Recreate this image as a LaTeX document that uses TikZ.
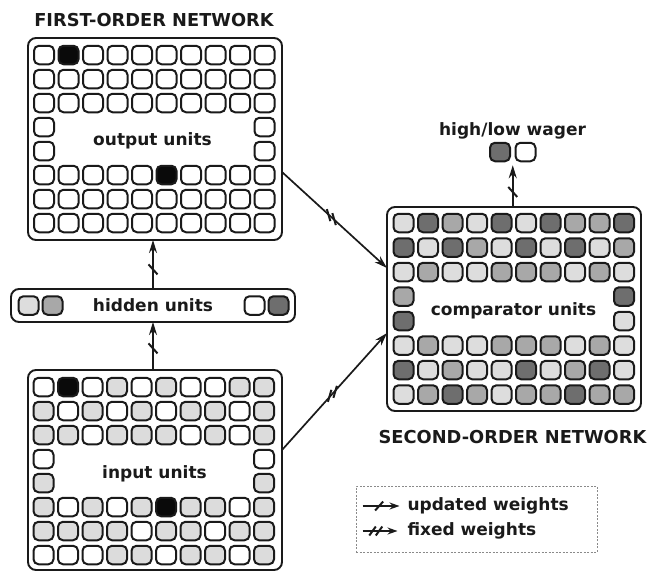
\documentclass[tikz,border=0pt]{standalone}
\usepackage{fontspec}
\setmainfont{DejaVu Sans}
\usetikzlibrary{arrows.meta,calc}

\definecolor{cL}{HTML}{DDDDDD}
\definecolor{cM}{HTML}{A8A8A8}
\definecolor{cD}{HTML}{6E6E6E}
\definecolor{cG}{HTML}{DCDCDC}
\definecolor{cW}{HTML}{FFFFFF}
\definecolor{cB}{HTML}{0A0A0A}
\definecolor{ink}{HTML}{1A1A1A}
\definecolor{legendgray}{HTML}{8A8A8A}

\tikzset{
  cell/.style={draw=ink, line width=2pt, rounded corners=5pt,
    minimum width=20pt, minimum height=18.5pt, inner sep=0pt, outer sep=0pt},
  panel/.style={draw=ink, line width=1.9pt, rounded corners=8pt,
    inner sep=0pt, outer sep=0pt},
  lbl/.style={font=\fontsize{17}{20}\selectfont\bfseries, text=ink,
    inner sep=0pt, outer sep=0pt, anchor=base},
  ttl/.style={lbl, font=\fontsize{17.8}{21}\selectfont\bfseries},
  conn/.style={draw=ink, line width=1.7pt, -{Stealth[length=13pt,width=8pt]}},
  legarrow/.style={draw=ink, line width=1.8pt, -{Stealth[length=10pt,width=7pt]}},
  tick/.style={draw=ink, line width=2pt},
  legendbox/.style={draw=legendgray, dash pattern=on 2pt off 1.5pt, line width=1pt},
  onetickv/.pic={\draw[tick] (-4.5,-5) -- (4.5,5);},
  onetickh/.pic={\draw[tick] (-4,4.5) -- (4,-4.5);},
  twotickdown/.pic={\draw[tick] (-4.5,-8) -- (-1,4); \draw[tick] (1,-4) -- (4.5,8);},
  twotickup/.pic={\draw[tick] (-1,-4) -- (-4.5,8); \draw[tick] (4.5,-8) -- (1,4);},
  twotickh/.pic={\draw[tick] (-6.5,4.5) -- (0,-4.5); \draw[tick] (0,4.5) -- (6.5,-4.5);},
}

\begin{document}
\begin{tikzpicture}[x=1pt,y=-1pt]
\useasboundingbox (0,0) rectangle (649,573);

% ---------- panels ----------
\node[panel, minimum width=254pt, minimum height=202pt] (outbox) at (155,139) {};
\node[panel, minimum width=254pt, minimum height=200pt] (inbox) at (155,470) {};
\node[panel, minimum width=284pt, minimum height=33pt] (hid) at (153,305.5) {};
\node[panel, minimum width=254pt, minimum height=204pt] (cmp) at (514,309) {};
\node[legendbox, minimum width=241pt, minimum height=66pt, inner sep=0pt] (legend) at (476.5,519) {};

% ---------- output units ----------
\foreach \row [count=\j from 0] in {
  {W,B,W,W,W,W,W,W,W,W},
  {W,W,W,W,W,W,W,W,W,W},
  {W,W,W,W,W,W,W,W,W,W},
  {W,N,N,N,N,N,N,N,N,W},
  {W,N,N,N,N,N,N,N,N,W},
  {W,W,W,W,W,B,W,W,W,W},
  {W,W,W,W,W,W,W,W,W,W},
  {W,W,W,W,W,W,W,W,W,W}}{
  \foreach \c [count=\i from 0] in \row {
    \if\c N\else
      \node[cell, fill=c\c] (o-\j-\i) at ({44+24.5*\i},{55+24*\j}) {};
    \fi
  }
}

% ---------- input units ----------
\foreach \row [count=\j from 0] in {
  {W,B,W,G,W,G,W,W,G,G},
  {G,W,G,W,G,W,G,G,W,G},
  {G,G,W,G,G,G,W,G,W,G},
  {W,N,N,N,N,N,N,N,N,W},
  {G,N,N,N,N,N,N,N,N,G},
  {G,W,G,W,G,B,G,G,W,G},
  {G,G,G,G,W,G,G,W,G,G},
  {W,W,W,G,G,W,G,G,W,G}}{
  \foreach \c [count=\i from 0] in \row {
    \if\c N\else
      \node[cell, fill=c\c] (i-\j-\i) at ({43.5+24.5*\i},{387+24*\j}) {};
    \fi
  }
}

% ---------- comparator units ----------
\foreach \row [count=\j from 0] in {
  {L,D,M,L,D,L,D,M,M,D},
  {D,L,D,M,L,D,L,D,L,M},
  {L,M,L,L,M,M,M,L,M,L},
  {M,N,N,N,N,N,N,N,N,D},
  {D,N,N,N,N,N,N,N,N,L},
  {L,M,L,L,M,M,M,L,M,L},
  {D,L,M,L,L,D,L,M,D,L},
  {L,M,D,M,L,M,M,D,M,M}}{
  \foreach \c [count=\i from 0] in \row {
    \if\c N\else
      \node[cell, fill=c\c] (c-\j-\i) at ({403.5+24.5*\i},{223+24.5*\j}) {};
    \fi
  }
}

% ---------- hidden units ----------
\node[cell, fill=cL] (h1) at (28.5,305.5) {};
\node[cell, fill=cM] (h2) at (52.5,305.5) {};
\node[cell, fill=cW] (h3) at (254.5,305.5) {};
\node[cell, fill=cD] (h4) at (278.5,305.5) {};

% ---------- wager units ----------
\node[cell, fill=cD] (w1) at (500,152) {};
\node[cell, fill=cW] (w2) at (525.5,152) {};

% ---------- labels ----------
\node[ttl] (t1) at (154,26) {FIRST-ORDER NETWORK};
\node[ttl] (t2) at (512.5,443) {SECOND-ORDER NETWORK};
\node[lbl] (lout) at (152.5,145) {output units};
\node[lbl] (lhid) at (153,311.5) {hidden units};
\node[lbl] (lin) at (154.5,478) {input units};
\node[lbl] (lcmp) at (513.5,315) {comparator units};
\node[lbl] (lwag) at (512.5,135) {high/low wager};

% ---------- connectors ----------
\coordinate (hidtop) at (hid.north);
\coordinate (outbot) at (hid.north |- outbox.south);
\draw[conn] (hidtop) -- (outbot);
\pic at ($(hidtop)!0.4!(outbot)$) {onetickv};

\coordinate (intop) at (hid.south |- inbox.north);
\coordinate (hidbot) at (hid.south);
\draw[conn] (intop) -- (hidbot);
\pic at ($(intop)!0.45!(hidbot)$) {onetickv};

\coordinate (wagmid) at ($(w1.south)!0.5!(w2.south)+(0,4)$);
\coordinate (cmptop) at (cmp.north -| wagmid);
\draw[conn] (cmptop) -- (wagmid);
\pic at ($(cmptop)!0.36!(wagmid)$) {onetickv};

\coordinate (oA) at ($(outbox.east)+(0,33)$);
\coordinate (cA) at ($(cmp.west)+(0,-41)$);
\draw[conn] (oA) -- (cA);
\pic at ($(oA)!0.47!(cA)$) {twotickdown};

\coordinate (iA) at ($(inbox.east)+(0,-20)$);
\coordinate (cB) at ($(cmp.west)+(0,24)$);
\draw[conn] (iA) -- (cB);
\pic at ($(iA)!0.48!(cB)$) {twotickup};

% ---------- legend ----------
\coordinate (lg1a) at ($(legend.west)+(7,-13)$);
\coordinate (lg1b) at ($(lg1a)+(37,0)$);
\draw[legarrow] (lg1a) -- (lg1b);
\pic at ($(lg1a)!0.45!(lg1b)$) {onetickh};
\node[lbl, anchor=base west] (lu) at ($(legend.west)+(52,-8.5)$) {updated weights};

\coordinate (lg2a) at ($(legend.west)+(7,12)$);
\coordinate (lg2b) at ($(lg2a)+(35,0)$);
\draw[legarrow] (lg2a) -- (lg2b);
\pic at ($(lg2a)!0.38!(lg2b)$) {twotickh};
\node[lbl, anchor=base west] (lf) at ($(legend.west)+(52,16)$) {fixed weights};
\end{tikzpicture}
\end{document}
